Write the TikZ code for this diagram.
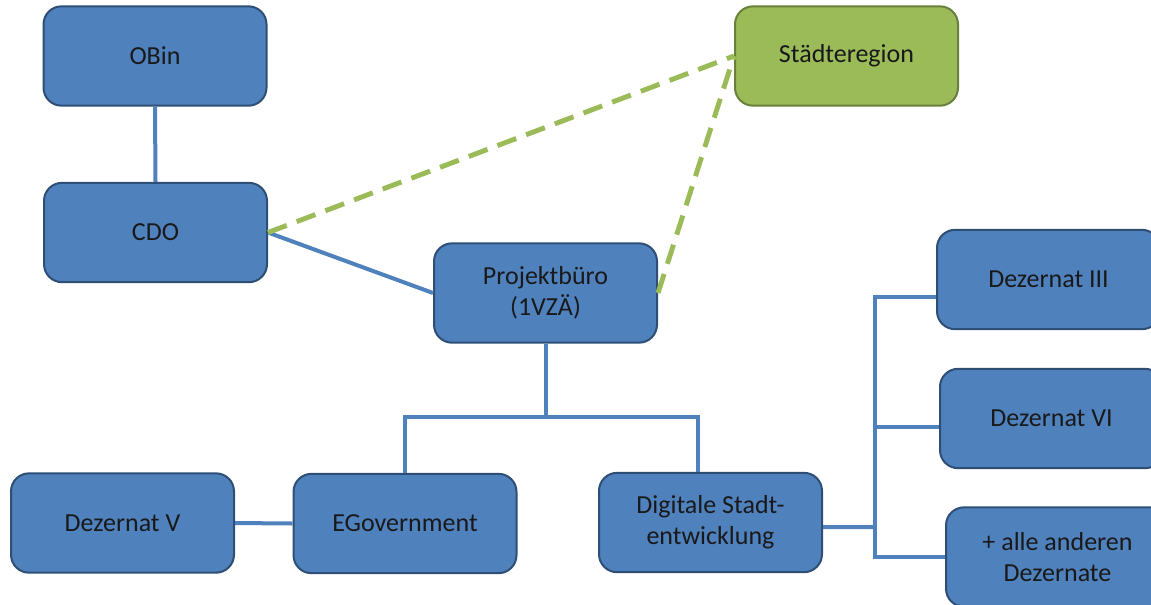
\documentclass[tikz,border=0pt]{standalone}
\usepackage{fontspec}
\setmainfont{Carlito}
\definecolor{boxblue}{RGB}{79,129,189}
\definecolor{boxedge}{RGB}{46,78,118}
\definecolor{regiongreen}{RGB}{155,187,89}
\definecolor{regionedge}{RGB}{104,128,58}
\tikzset{
  orgbox/.style={draw=boxedge, line width=1.5pt, fill=boxblue, rounded corners=13.5pt,
    minimum width=167.25pt, minimum height=74.5pt, align=center, inner sep=2pt,
    font=\fontsize{19.5}{23}\selectfont, text=black!90},
  regionbox/.style={orgbox, draw=regionedge, fill=regiongreen},
  conn/.style={draw=boxblue, line width=3pt},
  cooperation/.style={draw=regiongreen, line width=3.7pt, dash pattern={on 15pt off 8pt}}
}
\begin{document}
\begin{tikzpicture}[x=0.75pt,y=0.75pt,yscale=-1,xscale=1]
\useasboundingbox (0,0) rectangle (1151,604);
\clip (0,0) rectangle (1151,604);

%Rounded Rect
\node[orgbox] (obin) at (155,56) {OBin};
\node[orgbox] (cdo) at (155.5,232.5) {CDO};
\node[regionbox] (region) at (846.5,56) {Städteregion};
\node[orgbox] (buero) at (545.5,293) {Projektbüro\\(1VZÄ)};
\node[orgbox] (dezV) at (122.5,523) {Dezernat V};
\node[orgbox] (egov) at (405,523.5) {EGovernment};
\node[orgbox] (digital) at (710.5,522.5) {Digitale Stadt-\\entwicklung};
\node[orgbox] (dezIII) at (1048.5,279.5) {Dezernat III};
\node[orgbox] (dezVI) at (1051.5,418.5) {Dezernat VI};
\node[orgbox] (andere) at (1057.5,557) {+ alle anderen\\Dezernate};

%Straight Lines
\draw[conn] (obin.south) -- (cdo.north);
\draw[conn] (cdo.east) -- (buero.west);
\draw[conn] (dezV.east) -- (egov.west);

%Straight Lines (tree below the Projektbüro)
\draw[conn] (buero.south) -- ++(0,73) coordinate (split);
\draw[conn] (egov.north) |- (split) -| ([xshift=-9.75pt]digital.north);

%Straight Lines (bus to the Dezernate)
\coordinate (bus) at (875,527);
\coordinate (iii) at ([yshift=13pt]dezIII.west);
\coordinate (vi) at ([yshift=6.4pt]dezVI.west);
\draw[conn] ([yshift=3.4pt]digital.east) -- (bus);
\draw[conn] (iii) -| (bus |- andere.west) -- (andere.west);
\draw[conn] (vi) -- (vi -| bus);

%Dashed Lines
\draw[cooperation] (cdo.east) -- (region.west);
\draw[cooperation] (buero.east) -- (region.west);

\end{tikzpicture}
\end{document}
